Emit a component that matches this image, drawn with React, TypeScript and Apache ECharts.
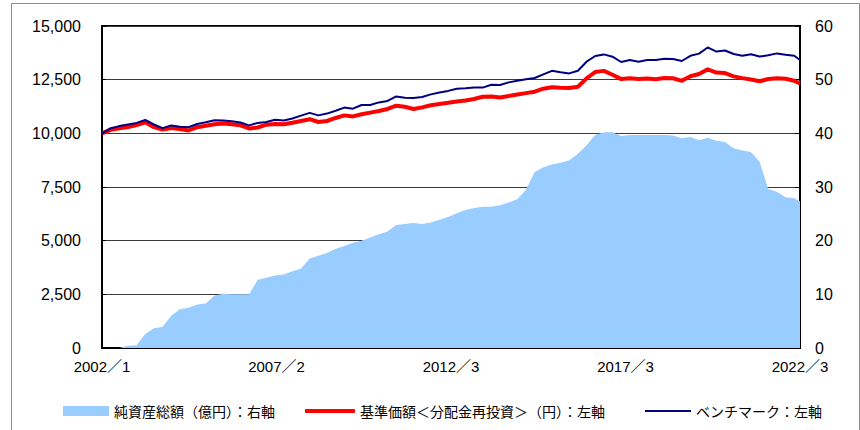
import React, { useEffect, useRef } from "react";
import * as echarts from "echarts";

// month index (0 = 2002/1, 242 = 2022/3), sampled every 3 months
const monthIdx: number[] = Array.from({ length: 81 }, (_, k) => k * 3).concat([242]);

const xTickLabels = ["2002／1", "2007／2", "2012／3", "2017／3", "2022／3"];

const seriesNames = [
  "純資産総額（億円）：右軸",
  "基準価額＜分配金再投資＞（円）：左軸",
  "ベンチマーク：左軸",
];

// 純資産総額 (right axis)
const netAssets = [
  0, 0, 0, 0.4, 0.5, 2.6, 3.7, 3.9, 6.0, 7.2,
  7.5, 8.1, 8.3, 9.8, 10.1, 10.0, 10.0, 10.0, 12.7, 13.1,
  13.5, 13.7, 14.3, 14.8, 16.7, 17.2, 17.7, 18.5, 19.0, 19.6,
  20.0, 20.6, 21.2, 21.7, 22.9, 23.1, 23.3, 23.1, 23.4, 23.9,
  24.4, 25.1, 25.7, 26.1, 26.3, 26.3, 26.6, 27.1, 27.7, 29.5,
  32.8, 33.7, 34.2, 34.5, 35.0, 36.2, 37.8, 39.7, 40.2, 40.2,
  39.5, 39.7, 39.7, 39.7, 39.7, 39.7, 39.6, 39.1, 39.3, 38.7,
  39.2, 38.6, 38.4, 37.2, 36.8, 36.5, 34.7, 29.6, 29.1, 28.1,
  27.9, 27.3,
];

// 基準価額＜分配金再投資＞ (left axis)
const navReinvested = [
  10000, 10160, 10230, 10295, 10384, 10514, 10286, 10174, 10249, 10202,
  10132, 10286, 10356, 10426, 10454, 10421, 10375, 10226, 10272, 10403,
  10431, 10426, 10491, 10575, 10659, 10528, 10575, 10715, 10836, 10789,
  10887, 10966, 11041, 11134, 11288, 11236, 11134, 11208, 11306, 11371,
  11423, 11483, 11534, 11600, 11702, 11711, 11670, 11735, 11805, 11874,
  11940, 12079, 12149, 12121, 12112, 12173, 12559, 12857, 12909, 12727,
  12527, 12564, 12531, 12550, 12522, 12578, 12564, 12447, 12657, 12764,
  12980, 12829, 12806, 12652, 12573, 12508, 12424, 12531, 12564, 12541,
  12447, 12331,
];

// ベンチマーク (left axis)
const benchmark = [
  10000, 10240, 10337, 10416, 10486, 10621, 10412, 10244, 10370, 10309,
  10281, 10435, 10514, 10612, 10598, 10561, 10505, 10370, 10486, 10528,
  10635, 10598, 10691, 10826, 10952, 10836, 10920, 11055, 11199, 11148,
  11320, 11320, 11441, 11511, 11721, 11656, 11651, 11693, 11814, 11898,
  11977, 12079, 12098, 12140, 12131, 12261, 12252, 12373, 12452, 12517,
  12578, 12746, 12913, 12843, 12792, 12918, 13337, 13603, 13677, 13570,
  13323, 13416, 13337, 13416, 13416, 13477, 13463, 13370, 13612, 13714,
  14000, 13808, 13859, 13696, 13617, 13686, 13579, 13635, 13724, 13658,
  13617, 13416,
];

const pair = (vals: number[]) => vals.map((v, i) => [monthIdx[i], v]);

const NUM_FONT = "'Liberation Sans', Arial, 'Noto Sans CJK JP', sans-serif";
const JP_FONT = "'Noto Sans CJK JP', sans-serif";

export default function App() {
  const ref = useRef<HTMLDivElement>(null);

  useEffect(() => {
    if (!ref.current) return;
    const chart = echarts.init(ref.current, undefined, { renderer: "svg" });
    const legendText = { fontFamily: JP_FONT, fontSize: 14, color: "#000" };
    chart.setOption({
      animation: false,
      backgroundColor: "#fff",
      graphic: [
        {
          type: "rect",
          shape: { x: 11.5, y: 3.5, width: 848, height: 440 },
          style: { fill: "none", stroke: "#8c8c8c", lineWidth: 1 },
          silent: true,
        },
      ],
      grid: {
        left: 102,
        top: 26,
        width: 698,
        height: 322,
        show: true,
        borderColor: "#000",
        borderWidth: 2,
        backgroundColor: "transparent",
      },
      legend: [
        {
          left: 63,
          top: 404,
          padding: 0,
          itemWidth: 46,
          itemHeight: 10,
          icon: "rect",
          data: [seriesNames[0]],
          textStyle: legendText,
        },
        {
          left: 305,
          top: 404,
          padding: 0,
          itemWidth: 50,
          itemHeight: 4,
          icon: "roundRect",
          data: [seriesNames[1]],
          textStyle: legendText,
        },
        {
          left: 645,
          top: 404,
          padding: 0,
          itemWidth: 46,
          itemHeight: 2,
          icon: "rect",
          data: [seriesNames[2]],
          textStyle: legendText,
        },
      ],
      xAxis: {
        type: "value",
        min: 0,
        max: 242,
        interval: 60.5,
        axisLine: { show: true, lineStyle: { color: "#000", width: 2 } },
        axisTick: { show: true, inside: true, length: 5, lineStyle: { color: "#000" } },
        splitLine: { show: false },
        axisLabel: {
          show: true,
          margin: 11,
          showMinLabel: true,
          showMaxLabel: true,
          fontFamily: NUM_FONT,
          fontSize: 15,
          color: "#000",
          formatter: (v: number) => xTickLabels[Math.round(v / 60.5)] ?? "",
        },
      },
      yAxis: [
        {
          type: "value",
          min: 0,
          max: 15000,
          interval: 2500,
          position: "left",
          axisLine: { show: true, lineStyle: { color: "#000", width: 2 } },
          axisTick: { show: true, inside: true, length: 4, lineStyle: { color: "#000" } },
          splitLine: { show: true, lineStyle: { color: "#3a3a3a", width: 1 } },
          axisLabel: {
            margin: 21,
            fontFamily: NUM_FONT,
            fontSize: 16,
            color: "#000",
            formatter: (v: number) => v.toLocaleString("en-US"),
          },
        },
        {
          type: "value",
          min: 0,
          max: 60,
          interval: 10,
          position: "right",
          axisLine: { show: true, lineStyle: { color: "#000", width: 2 } },
          axisTick: { show: true, inside: true, length: 5, lineStyle: { color: "#000" } },
          splitLine: { show: false },
          axisLabel: {
            margin: 15,
            fontFamily: NUM_FONT,
            fontSize: 16,
            color: "#000",
          },
        },
      ],
      series: [
        {
          name: seriesNames[0],
          type: "line",
          yAxisIndex: 1,
          data: pair(netAssets),
          showSymbol: false,
          symbol: "none",
          lineStyle: { width: 0, color: "#99ccff" },
          itemStyle: { color: "#99ccff" },
          areaStyle: { color: "#99ccff", opacity: 1 },
          z: 1,
        },
        {
          name: seriesNames[1],
          type: "line",
          yAxisIndex: 0,
          data: pair(navReinvested),
          showSymbol: false,
          symbol: "none",
          lineStyle: { width: 4, color: "#ff0000" },
          itemStyle: { color: "#ff0000" },
          z: 3,
        },
        {
          name: seriesNames[2],
          type: "line",
          yAxisIndex: 0,
          data: pair(benchmark),
          showSymbol: false,
          symbol: "none",
          lineStyle: { width: 2, color: "#000080" },
          itemStyle: { color: "#000080" },
          z: 4,
        },
      ],
    });
    return () => chart.dispose();
  }, []);

  return (
    <div
      ref={ref}
      style={{ position: "fixed", left: 0, top: 0, width: 860, height: 430 }}
    />
  );
}
